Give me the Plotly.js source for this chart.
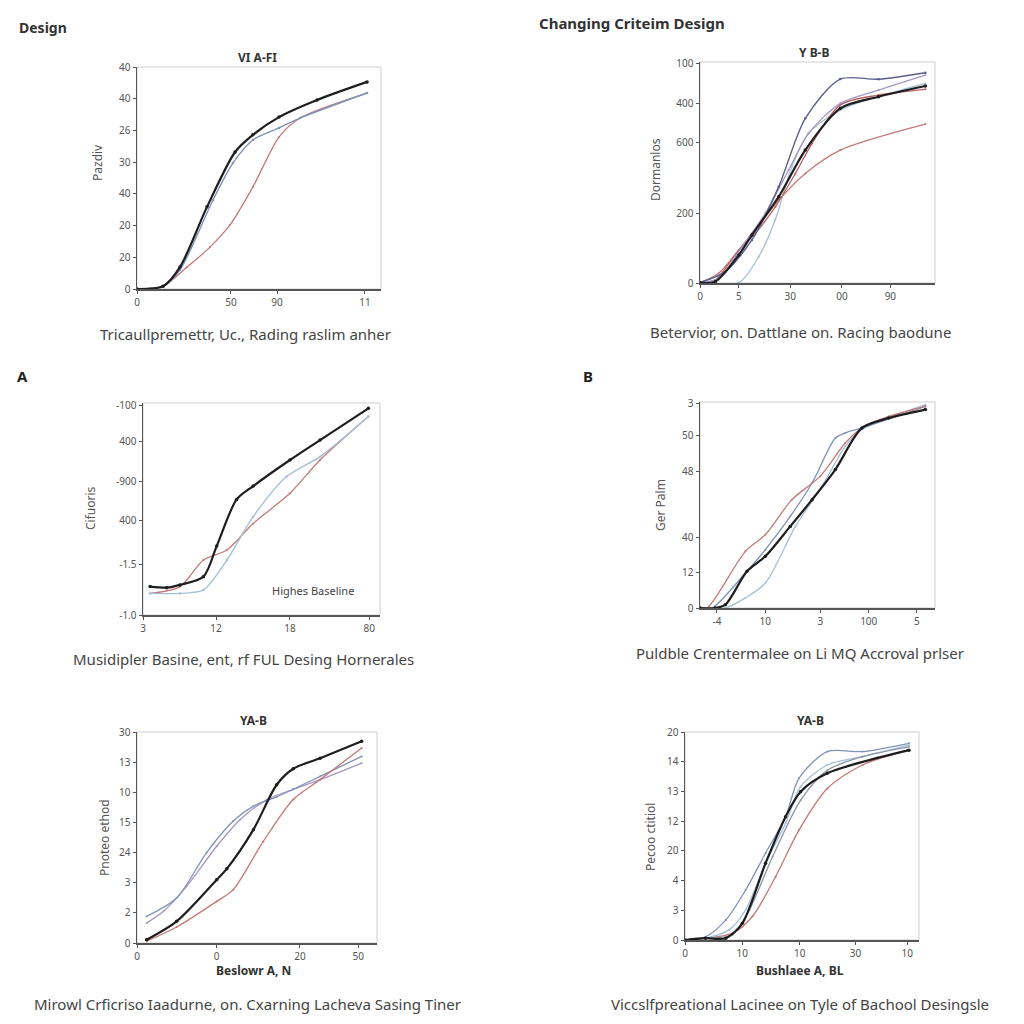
<!DOCTYPE html>
<html><head><meta charset="utf-8">
<script src="https://cdn.plot.ly/plotly-3.0.1.min.js"></script>
<style>html,body{margin:0;padding:0;background:#fff}#chart{width:1024px;height:1024px}</style>
</head><body><div id="chart"></div>
<script>
// ---------- Panel 1 (VI A-FI) ----------
const p1TickVals = [0, 38.5, 57.4, 93.4];
const p1TickText = ["0", "50", "90", "11"];
const p1YTickVals = [0, 10, 20, 30, 40, 50, 60, 70];
const p1YTickText = ["0", "20", "20", "40", "30", "26", "40", "40"];
const p1BlackX = [0, 10.7, 17.6, 28.7, 40.2, 47.5, 58.2, 73.8, 94.3];
const p1BlackY = [0, 0.9, 6.9, 25.9, 43.2, 48.6, 54.2, 59.6, 65.3];
const p1BlueX = [0, 10.7, 17.6, 31.1, 39.3, 47.5, 58.2, 66.8, 94.3];
const p1BlueY = [0, 0.9, 6, 28, 39.7, 47, 50.8, 53.9, 61.8];
const p1RedX = [0, 10.7, 20.5, 29.9, 38.1, 47.5, 58.2, 66.8, 94.3];
const p1RedY = [0, 0.9, 6.9, 13.2, 20.2, 32.2, 47.9, 53.9, 61.8];

// ---------- Panel 2 (Y B-B) ----------
const p2TickVals = [0, 16.5, 38.4, 60.4, 81];
const p2TickText = ["0", "5", "30", "00", "90"];
const p2YTickVals = [0, 157.6, 317.4, 406.4, 497.6];
const p2YTickText = ["0", "200", "600", "400", "100"];
const p2NavyX = [0, 10.8, 22.1, 33.5, 44.8, 59.7, 76, 95.9];
const p2NavyY = [1, 25.6, 97.3, 218, 372.5, 461.4, 461, 475.8];
const p2BlackX = [0, 6.5, 16.5, 22.1, 33.5, 44.8, 59.7, 76, 95.9];
const p2BlackY = [0.75, 3, 63.3, 108.6, 195.3, 300.8, 395.1, 421.5, 445.6];
const p2RedX = [0, 6.5, 16.5, 23.5, 32.1, 40.6, 47.7, 59.7, 76, 95.9];
const p2RedY = [0.75, 6.8, 74.6, 112.3, 172.7, 248, 316, 403, 425.3, 438.1];
const p2PurpleX = [0, 7.9, 17.9, 27.8, 37.7, 46.2, 59.7, 76, 95.9];
const p2PurpleY = [0.75, 10.6, 82.2, 157.6, 255.6, 338.6, 406.4, 436.6, 470.5];
const p2LightX = [0, 16.5, 25, 32, 39.1, 46.2, 59.7, 95.9];
const p2LightY = [0.75, 0.75, 59.6, 142.5, 263.1, 338.6, 391.3, 451.6];
const p2SalmonX = [0, 7.9, 22.1, 33.5, 44.8, 59.7, 95.9];
const p2SalmonY = [0.75, 21.9, 112.3, 187.7, 248, 300.8, 359.6];

// ---------- Panel 3 (A) ----------
const p3TickVals = [0, 30.8, 62, 95.5];
const p3TickText = ["3", "12", "18", "80"];
const p3YTickVals = [0, 23.9, 44.8, 62.9, 81.8, 98.7];
const p3YTickText = ["-1.0", "-1.5", "400", "-900", "400", "-100"];
const p3BlackX = [3, 10, 15.6, 25.5, 31.1, 39.5, 46.5, 62, 74.7, 95.1];
const p3BlackY = [13.4, 12.9, 14.2, 18.1, 32.5, 54.5, 60.8, 73.1, 82.5, 97.5];
const p3RedX = [3, 15.6, 25.5, 35.4, 46.5, 62, 74.7, 95.1];
const p3RedY = [10.2, 13.4, 25.9, 30.7, 43.2, 57.4, 73.1, 93.6];
const p3BlueX = [3, 15.6, 25.5, 35.4, 46.5, 60.6, 74.7, 95.1];
const p3BlueY = [10.2, 10.2, 11.8, 25.9, 46.4, 65.3, 74.7, 93.6];

// ---------- Panel 4 (B) ----------
const p4TickVals = [7.2, 27.8, 51.2, 71.8, 92.3];
const p4TickText = ["-4", "10", "3", "100", "5"];
const p4YTickVals = [0, 17.3, 34.3, 66.3, 83.7, 99.5];
const p4YTickText = ["0", "12", "40", "48", "50", "3"];
const p4BlackX = [0, 6.5, 10.8, 20, 27.8, 38.4, 47.7, 57.6, 68.9, 80.3, 95.9];
const p4BlackY = [0, 0, 1.6, 17.8, 25.1, 39.6, 52.6, 67.2, 87.4, 92.2, 96.3];
const p4RedX = [0, 3, 19.3, 27.8, 39.1, 51.2, 61.8, 68.9, 80.3, 95.9];
const p4RedY = [0, 0, 27.5, 35.6, 52.6, 64, 80.1, 87.4, 93, 97.9];
const p4LightX = [0, 10.8, 19.3, 27.8, 40.6, 51.9, 61.8, 68.9, 95.9];
const p4LightY = [0, 0, 4.9, 12.1, 39.6, 59.1, 78.5, 86.6, 98.7];
const p4SlateX = [0, 5.1, 19.3, 27.8, 38.4, 47.7, 57.6, 61.8, 68.9, 95.9];
const p4SlateY = [0, 0, 17, 28.3, 44.5, 60.7, 82.5, 85, 87.4, 97.9];

// ---------- Panel 5 (YA-B, left) ----------
const p5TickVals = [0, 33.2, 67.9, 92.2];
const p5TickText = ["0", "0", "20", "50"];
const p5YTickVals = [0, 10, 20, 30, 40, 50, 60, 70];
const p5YTickText = ["0", "2", "3", "24", "15", "10", "13", "30"];
const p5BlackX = [4, 16.5, 33.2, 37.4, 48.5, 58.2, 65.1, 76.3, 93.6];
const p5BlackY = [1.1, 7.2, 21, 24.6, 37.6, 52.5, 57.8, 61.3, 66.9];
const p5RedX = [4, 16.5, 33.2, 40.1, 52.6, 65.1, 76.3, 93.6];
const p5RedY = [0.6, 5.3, 13.8, 17.7, 33.7, 47.6, 54.2, 64.7];
const p5BlueX = [4, 16.5, 29, 40.1, 48.5, 58.2, 65.1, 76.3, 93.6];
const p5BlueY = [8.8, 14.9, 30, 40.5, 45.4, 48.5, 51, 55.3, 61.9];
const p5LavX = [4, 11, 20.7, 33.2, 42.9, 54, 65.1, 76.3, 93.6];
const p5LavY = [6.6, 10.5, 18.8, 32.1, 40.9, 47.5, 51, 54.2, 59.7];

// ---------- Panel 6 (YA-B, right) ----------
const p6TickVals = [0, 24.5, 49, 72.9, 95];
const p6TickText = ["0", "10", "10", "30", "10"];
const p6YTickVals = [0, 10, 20, 30, 40, 50, 60, 70];
const p6YTickText = ["0", "3", "4", "20", "12", "13", "14", "20"];
const p6BlackX = [0, 8.8, 17.4, 24.5, 34.4, 43, 49.4, 60.8, 95.7];
const p6BlackY = [0, 0.6, 0.6, 5.6, 25.8, 41.5, 49.9, 56.1, 63.9];
const p6RedX = [0, 8.8, 20.2, 28.8, 38.7, 48.7, 60.8, 75.8, 95.7];
const p6RedY = [0, 0.6, 2.2, 7.9, 21.3, 37, 51, 58.9, 63.9];
const p6SlateX = [0, 8.8, 17.4, 25.9, 34.4, 43, 48.7, 60.8, 75.8, 95.7];
const p6SlateY = [0, 1.1, 6.7, 16.8, 29.2, 41.5, 54.4, 63.4, 63.4, 66.2];
const p6LightX = [0, 8.8, 18.8, 25.9, 34.4, 43, 49.4, 60.8, 75.8, 95.7];
const p6LightY = [0, 0.6, 3.4, 10.1, 25.8, 39.3, 51.6, 58.9, 61.7, 65.6];
const p6GreyX = [0, 8.8, 20.2, 27.5, 37.4, 49.4, 60.8, 75.8, 95.7];
const p6GreyY = [0, 0.6, 1.7, 10.1, 28, 47, 57.1, 61.7, 65];

// ---------- styling ----------
const C = {black: '#1e1e1e', blue: '#7f92b8', light: '#a5c0d6', red: '#c27a78', navy: '#5a5f8e', purple: '#a596c2', grey: '#8a95a8'};
const FONT = 'Noto Sans, DejaVu Sans, sans-serif';

function tr(x, y, color, w, ax, ms) {
  return {x: x, y: y, xaxis: 'x' + ax, yaxis: 'y' + ax, type: 'scatter', mode: 'lines+markers',
    line: {color: color, width: w, shape: 'spline', smoothing: 0.8},
    marker: {color: color, size: ms}, hoverinfo: 'skip', showlegend: false};
}

const data = [
  tr(p1RedX, p1RedY, C.red, 1.3, '', 2),
  tr(p1BlueX, p1BlueY, C.blue, 1.4, '', 2.5),
  tr(p1BlackX, p1BlackY, C.black, 2.2, '', 3.5),

  tr(p2SalmonX, p2SalmonY, C.red, 1.3, '2', 2),
  tr(p2LightX, p2LightY, C.light, 1.3, '2', 2),
  tr(p2RedX, p2RedY, '#b9605e', 1.3, '2', 2),
  tr(p2PurpleX, p2PurpleY, C.purple, 1.3, '2', 2),
  tr(p2NavyX, p2NavyY, C.navy, 1.4, '2', 2.5),
  tr(p2BlackX, p2BlackY, C.black, 2.2, '2', 3.5),

  tr(p3RedX, p3RedY, C.red, 1.3, '3', 2),
  tr(p3BlueX, p3BlueY, C.light, 1.4, '3', 2.5),
  tr(p3BlackX, p3BlackY, C.black, 2.2, '3', 3.5),

  tr(p4LightX, p4LightY, C.light, 1.3, '4', 2),
  tr(p4SlateX, p4SlateY, C.blue, 1.3, '4', 2),
  tr(p4RedX, p4RedY, C.red, 1.3, '4', 2),
  tr(p4BlackX, p4BlackY, C.black, 2.2, '4', 3.5),

  tr(p5LavX, p5LavY, C.purple, 1.3, '5', 2),
  tr(p5BlueX, p5BlueY, C.blue, 1.3, '5', 2),
  tr(p5RedX, p5RedY, C.red, 1.3, '5', 2),
  tr(p5BlackX, p5BlackY, C.black, 2.2, '5', 3.5),

  tr(p6RedX, p6RedY, C.red, 1.3, '6', 2),
  tr(p6SlateX, p6SlateY, C.blue, 1.3, '6', 2),
  tr(p6LightX, p6LightY, C.light, 1.3, '6', 2),
  tr(p6GreyX, p6GreyY, C.grey, 1.3, '6', 2),
  tr(p6BlackX, p6BlackY, C.black, 2.2, '6', 3.5)
];

function px(x) { return x / 1024; }
function py(y) { return 1 - y / 1024; }

function xax(l, r, yname, tv, tt) {
  return {domain: [px(l), px(r)], anchor: yname, range: [0, 100], tickmode: 'array', tickvals: tv, ticktext: tt,
    showgrid: false, zeroline: false, showline: true, linecolor: '#555', linewidth: 1.5,
    ticks: 'outside', ticklen: 3, tickcolor: '#555', tickfont: {family: FONT, size: 10, color: '#555'}, fixedrange: true};
}
function yax(t, b, xname, rng, tv, tt) {
  return {domain: [py(b), py(t)], anchor: xname, range: rng, tickmode: 'array', tickvals: tv, ticktext: tt,
    showgrid: false, zeroline: false, showline: true, linecolor: '#555', linewidth: 1.5,
    ticks: 'outside', ticklen: 3, tickcolor: '#555', tickfont: {family: FONT, size: 10, color: '#555'}, fixedrange: true};
}

function ann(text, x, y, size, opts) {
  return Object.assign({text: text, x: px(x), y: py(y), xref: 'paper', yref: 'paper', showarrow: false,
    xanchor: 'center', yanchor: 'middle', font: {family: FONT, size: size, color: '#333'}}, opts || {});
}

function box(ax) {
  return {type: 'rect', xref: 'x' + ax + ' domain', yref: 'y' + ax + ' domain', x0: 0, x1: 1, y0: 0, y1: 1,
    line: {color: '#cfcfcf', width: 1}, layer: 'below'};
}

const layout = {
  width: 1024, height: 1024, margin: {l: 0, r: 0, t: 0, b: 0},
  paper_bgcolor: '#ffffff', plot_bgcolor: '#ffffff', showlegend: false,
  xaxis: xax(137, 381, 'y', p1TickVals, p1TickText),
  yaxis: yax(67, 289, 'x', [0, 70], p1YTickVals, p1YTickText),
  xaxis2: xax(700, 935, 'y2', p2TickVals, p2TickText),
  yaxis2: yax(62, 283, 'x2', [0, 500], p2YTickVals, p2YTickText),
  xaxis3: xax(143, 380, 'y3', p3TickVals, p3TickText),
  yaxis3: yax(403, 615, 'x3', [0, 100], p3YTickVals, p3YTickText),
  xaxis4: xax(700, 935, 'y4', p4TickVals, p4TickText),
  yaxis4: yax(402, 608, 'x4', [0, 100], p4YTickVals, p4YTickText),
  xaxis5: xax(137, 377, 'y5', p5TickVals, p5TickText),
  yaxis5: yax(732, 943, 'x5', [0, 70], p5YTickVals, p5YTickText),
  xaxis6: xax(685, 919, 'y6', p6TickVals, p6TickText),
  yaxis6: yax(732, 940, 'x6', [0, 70], p6YTickVals, p6YTickText),
  shapes: [box(''), box('2'), box('3'), box('4'), box('5'), box('6')],
  annotations: [
    ann('<b>Design</b>', 17, 27, 14, {xanchor: 'left', font: {family: FONT, size: 14, color: '#333'}}),
    ann('<b>Changing Criteim Design</b>', 537, 23, 15, {xanchor: 'left', font: {family: FONT, size: 15, color: '#333'}}),
    ann('<b>VI A-FI</b>', 257, 57, 12),
    ann('Tricaullpremettr, Uc., Rading raslim anher', 245, 334, 15, {font: {family: FONT, size: 15, color: '#444'}}),
    ann('Pazdiv', 97, 163, 12, {textangle: -90, font: {family: FONT, size: 12, color: '#555'}}),
    ann('<b>Y B-B</b>', 814, 52, 12),
    ann('Betervior, on. Dattlane on. Racing baodune', 800, 332, 15, {font: {family: FONT, size: 15, color: '#444'}}),
    ann('Dormanlos', 655, 170, 12, {textangle: -90, font: {family: FONT, size: 12, color: '#555'}}),
    ann('<b>A</b>', 22, 376, 15, {font: {family: FONT, size: 15, color: '#222'}}),
    ann('Highes Baseline', 313, 590, 11, {font: {family: FONT, size: 11, color: '#444'}}),
    ann('Musidipler Basine, ent, rf FUL Desing Hornerales', 243, 659, 15, {font: {family: FONT, size: 15, color: '#444'}}),
    ann('Cifuoris', 90, 508, 12, {textangle: -90, font: {family: FONT, size: 12, color: '#555'}}),
    ann('<b>B</b>', 588, 376, 15, {font: {family: FONT, size: 15, color: '#222'}}),
    ann('Puldble Crentermalee on Li MQ Accroval prlser', 800, 653, 15, {font: {family: FONT, size: 15, color: '#444'}}),
    ann('Ger Palm', 660, 505, 12, {textangle: -90, font: {family: FONT, size: 12, color: '#555'}}),
    ann('<b>YA-B</b>', 253, 720, 12),
    ann('<b>Beslowr A, N</b>', 253, 970, 12),
    ann('Pnoteo ethod', 104, 838, 12, {textangle: -90, font: {family: FONT, size: 12, color: '#555'}}),
    ann('Mirowl Crficriso Iaadurne, on. Cxarning Lacheva Sasing Tiner', 247, 1004, 15, {font: {family: FONT, size: 15, color: '#444'}}),
    ann('<b>YA-B</b>', 810, 720, 12),
    ann('<b>Bushlaee A, BL</b>', 800, 970, 12),
    ann('Pecoo ctitiol', 650, 837, 12, {textangle: -90, font: {family: FONT, size: 12, color: '#555'}}),
    ann('Viccslfpreational Lacinee on Tyle of Bachool Desingsle', 800, 1004, 15, {font: {family: FONT, size: 15, color: '#444'}})
  ]
};

Plotly.newPlot('chart', data, layout, {staticPlot: true, displayModeBar: false});
</script>
</body></html>
